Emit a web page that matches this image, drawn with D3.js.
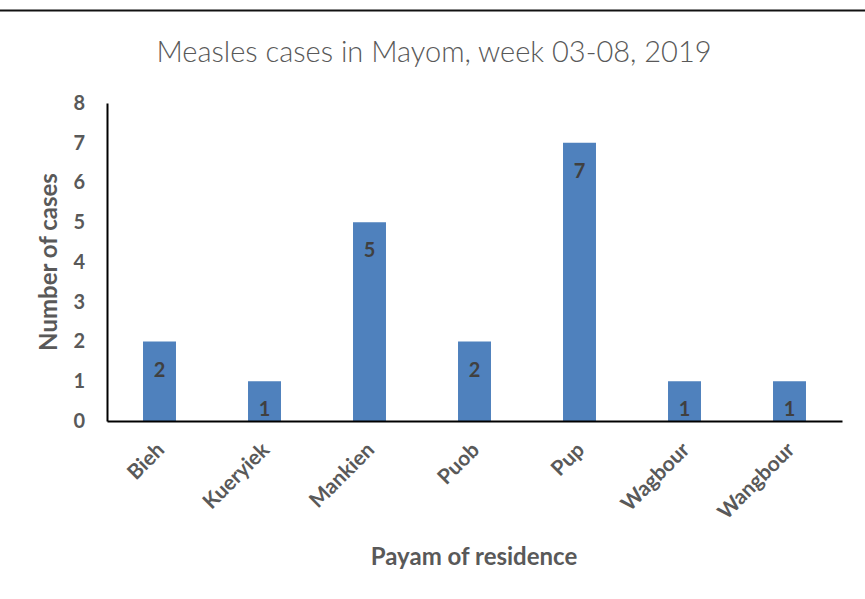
<!DOCTYPE html>
<html>
<head>
<meta charset="utf-8">
<script src="https://cdn.jsdelivr.net/npm/d3@7"></script>
<style>
  body { margin: 0; background: #fff; }
  svg { display: block; font-family: Lato, "Open Sans", sans-serif; }
</style>
</head>
<body>
<svg width="865" height="599"></svg>
<script>
// chart data
const payams = ["Bieh", "Kueryiek", "Mankien", "Puob", "Pup", "Wagbour", "Wangbour"];
const cases = [2, 1, 5, 2, 7, 1, 1];
const yTicks = [0, 1, 2, 3, 4, 5, 6, 7, 8];

const svg = d3.select("svg");
const margin = { left: 107, right: 23, top: 103, bottom: 178 };
const width = 865, height = 599;

const x = d3.scaleBand()
  .domain(payams)
  .range([margin.left, width - margin.right])
  .paddingInner(0.686)
  .paddingOuter(0.343);

const y = d3.scaleLinear()
  .domain([0, 8])
  .range([height - margin.bottom, margin.top]);

// frame line at the top
svg.append("line")
  .attr("x1", 0).attr("x2", width)
  .attr("y1", 10.5).attr("y2", 10.5)
  .attr("stroke", "#111").attr("stroke-width", 2);

// title
svg.append("text")
  .attr("x", 434).attr("y", 62)
  .attr("text-anchor", "middle")
  .attr("fill", "#595959")
  .style("font-size", "29px")
  .style("font-weight", 300)
  .text("Measles cases in Mayom, week 03-08, 2019");

// bars
svg.append("g")
  .selectAll("rect")
  .data(payams)
  .join("rect")
  .attr("x", (d) => x(d))
  .attr("y", (d, i) => y(cases[i]))
  .attr("width", x.bandwidth())
  .attr("height", (d, i) => y(0) - y(cases[i]))
  .attr("fill", "#4f81bd");

// value labels
svg.append("g")
  .selectAll("text")
  .data(payams)
  .join("text")
  .attr("x", (d) => x(d) + x.bandwidth() / 2)
  .attr("y", (d, i) => y(cases[i]) + 35)
  .attr("text-anchor", "middle")
  .attr("fill", "#404040")
  .style("font-size", "20px")
  .style("font-weight", "bold")
  .text((d, i) => cases[i]);

// y axis
const yAxis = svg.append("g")
  .attr("transform", `translate(${margin.left},0)`)
  .call(d3.axisLeft(y).tickValues(yTicks).tickSize(0).tickPadding(22));
yAxis.select(".domain").attr("stroke", "#000").attr("stroke-width", 2);
yAxis.selectAll("text")
  .attr("fill", "#595959")
  .style("font-size", "20px")
  .style("font-weight", "bold")
  .style("font-family", "Lato, sans-serif");

// x axis
const xAxis = svg.append("g")
  .attr("transform", `translate(0,${y(0)})`)
  .call(d3.axisBottom(x).tickSize(0).tickPadding(0));
xAxis.select(".domain").attr("stroke", "#000").attr("stroke-width", 2);
xAxis.selectAll("text")
  .attr("fill", "#595959")
  .style("font-size", "21px")
  .style("font-weight", "bold")
  .style("font-family", "Lato, sans-serif")
  .attr("text-anchor", "end")
  .attr("dy", "0.35em")
  .attr("transform", "translate(1,25) rotate(-45)");

// axis titles
svg.append("text")
  .attr("transform", "translate(57,262) rotate(-90)")
  .attr("text-anchor", "middle")
  .attr("fill", "#595959")
  .style("font-size", "24px")
  .style("font-weight", "bold")
  .text("Number of cases");

svg.append("text")
  .attr("x", 474).attr("y", 565)
  .attr("text-anchor", "middle")
  .attr("fill", "#595959")
  .style("font-size", "24px")
  .style("font-weight", "bold")
  .text("Payam of residence");
</script>
</body>
</html>
